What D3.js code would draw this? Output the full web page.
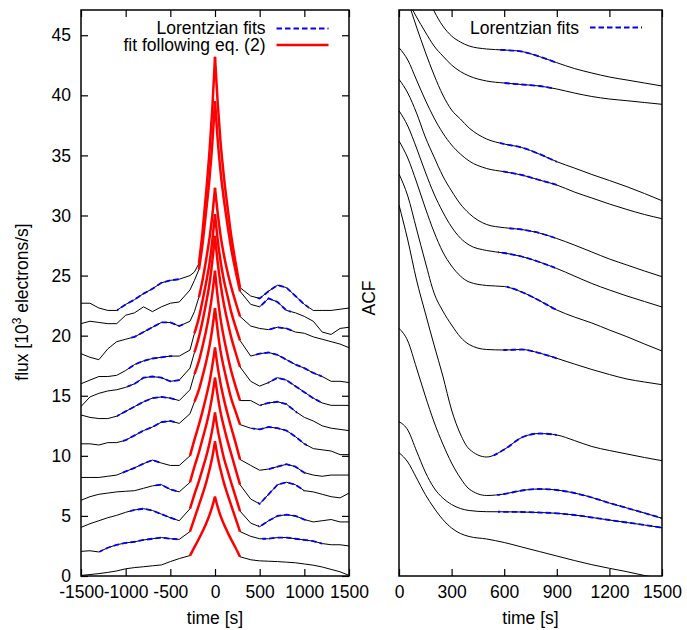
<!DOCTYPE html>
<html>
<head>
<meta charset="utf-8">
<script src="https://cdn.jsdelivr.net/npm/d3@7"></script>
<style>
  body { margin: 0; background: #fff; }
  text { font-family: "Liberation Sans", Arial, sans-serif; }
</style>
</head>
<body>
<svg id="chart" width="687" height="630"></svg>
<script>
// ---- left panel: flux light curves (12 curves, bottom to top) ----
const sideTimesL = [-1500, -1400, -1300, -1200, -1100, -1000, -900, -800, -700, -600, -500, -400];
const coreTimes  = [-280, -230, -180, -140, -100, -60, -30, 0, 30, 60, 100, 140, 180, 230, 280];
const sideTimesR = [400, 500, 600, 700, 800, 900, 1000, 1100, 1200, 1300, 1400, 1500];

const fluxSideL = [
  [0.05, 0.12, 0.2, 0.3, 0.42, 0.6, 0.7, 0.77, 0.85, 0.92, 1.2, 1.45],
  [2.05, 2.1, 2.0, 2.35, 2.6, 2.75, 2.85, 3.0, 3.1, 3.2, 3.1, 3.05],
  [4.05, 4.35, 4.6, 4.85, 5.05, 5.3, 5.5, 5.6, 5.45, 5.15, 4.85, 4.6],
  [6.3, 6.6, 6.8, 6.9, 7.0, 7.05, 7.1, 7.3, 7.5, 7.6, 7.2, 7.0],
  [8.2, 8.2, 8.2, 8.3, 8.4, 8.7, 9.0, 9.35, 9.65, 9.4, 9.2, 9.2],
  [11.0, 11.0, 10.9, 11.1, 11.1, 11.3, 11.7, 12.1, 12.4, 12.8, 12.9, 12.7],
  [13.4, 13.2, 13.1, 13.1, 13.3, 13.7, 14.1, 14.5, 14.8, 14.9, 14.8, 14.6],
  [14.1, 14.9, 15.2, 15.4, 15.5, 15.7, 16.0, 16.5, 16.6, 16.5, 16.2, 16.3],
  [16.0, 16.3, 16.6, 16.6, 16.7, 17.1, 17.6, 17.9, 18.1, 18.2, 18.3, 18.3],
  [18.5, 18.2, 18.0, 18.9, 19.5, 19.7, 19.9, 20.3, 20.7, 21.1, 21.1, 20.8],
  [21.0, 21.2, 21.1, 21.0, 21.0, 21.7, 21.9, 22.4, 22.0, 22.4, 22.7, 22.8],
  [22.7, 22.7, 22.3, 22.1, 22.1, 22.6, 23.0, 23.5, 23.9, 24.4, 24.6, 24.7]
];

const fluxCore = [
  [1.7, 2.4, 3.1, 3.7, 4.35, 5.1, 5.8, 6.6, 5.75, 5.05, 4.3, 3.65, 3.05, 2.35, 1.6],
  [3.7, 4.8, 5.9, 6.8, 7.75, 8.9, 9.9, 11.2, 9.9, 8.9, 7.75, 6.8, 5.9, 4.8, 3.7],
  [5.6, 6.8, 7.9, 8.9, 9.9, 11.1, 12.2, 13.6, 12.2, 11.1, 9.8, 8.8, 7.8, 6.6, 5.4],
  [7.8, 9.1, 10.3, 11.4, 12.5, 13.8, 15.0, 16.5, 15.0, 13.7, 12.4, 11.25, 10.2, 8.9, 7.6],
  [10.0, 11.35, 12.6, 13.7, 14.9, 16.2, 17.5, 19.0, 17.4, 16.1, 14.7, 13.5, 12.4, 11.1, 9.7],
  [13.5, 14.5, 15.5, 16.6, 17.8, 19.2, 20.6, 22.3, 20.4, 18.8, 17.3, 16.0, 14.8, 13.7, 12.6],
  [15.5, 16.8, 17.9, 19.1, 20.4, 22.0, 23.5, 25.4, 23.2, 21.5, 19.8, 18.4, 17.1, 15.8, 14.6],
  [17.3, 18.6, 19.9, 21.2, 22.7, 24.4, 26.2, 28.3, 26.1, 24.4, 22.6, 21.2, 19.9, 18.6, 17.4],
  [18.8, 20.2, 21.5, 22.9, 24.4, 26.1, 27.9, 30.1, 28.0, 26.3, 24.6, 23.3, 22.0, 20.75, 19.6],
  [21.2, 22.0, 23.2, 24.6, 26.3, 28.2, 30.0, 32.3, 30.2, 28.45, 26.7, 25.3, 24.1, 22.8, 21.6],
  [23.8, 24.6, 25.5, 27.6, 30.3, 33.2, 36.0, 39.5, 36.3, 33.8, 31.3, 29.2, 27.3, 25.4, 23.7],
  [25.0, 25.3, 26.0, 28.6, 31.85, 35.5, 38.9, 43.2, 39.4, 36.3, 33.2, 30.7, 28.4, 26.1, 24.0]
];

const fluxSideR = [
  [1.35, 1.26, 1.23, 1.2, 1.15, 1.1, 1.0, 0.9, 0.75, 0.55, 0.35, 0.05],
  [3.3, 3.1, 3.1, 3.2, 3.2, 3.1, 3.0, 2.9, 2.7, 2.6, 2.6, 2.5],
  [4.4, 4.1, 4.6, 5.0, 5.1, 5.0, 4.7, 4.5, 4.6, 4.7, 4.5, 4.5],
  [6.4, 6.0, 6.8, 7.6, 7.8, 7.6, 7.1, 7.0, 6.8, 6.6, 6.5, 6.9],
  [9.2, 8.8, 8.9, 9.1, 9.3, 9.1, 8.6, 8.4, 8.3, 8.4, 8.4, 8.4],
  [12.3, 12.2, 12.4, 12.3, 12.1, 11.6, 11.0, 10.6, 10.5, 10.4, 10.1, 10.1],
  [14.6, 14.2, 14.4, 14.5, 14.3, 13.7, 13.2, 12.9, 12.5, 12.3, 12.2, 12.1],
  [16.2, 15.8, 16.1, 16.5, 16.3, 15.8, 15.3, 14.8, 14.4, 14.2, 14.2, 14.2],
  [18.3, 18.5, 18.6, 18.4, 18.0, 17.6, 17.3, 16.9, 16.6, 16.2, 16.2, 16.1],
  [20.8, 20.6, 20.5, 20.7, 20.6, 20.3, 20.2, 19.9, 19.7, 19.5, 19.3, 19.0],
  [22.6, 22.4, 23.1, 22.8, 22.1, 21.9, 21.6, 21.2, 20.3, 20.1, 20.6, 20.7],
  [23.3, 23.1, 23.7, 24.2, 24.0, 23.3, 22.6, 22.1, 22.1, 22.1, 22.2, 22.3]
];

// time span of the eq. (2) fit (red) and of the Lorentzian fits (blue)
const redStart = [-280, -280, -280, -280, -280, -230, -230, -230, -230, -180, -180, -180];
const redEnd = 280;
const lorentzLeft = [null, [-1290, -420], [-950, -420], [-680, -430], [-1050, -620], [-1030, -430],
  [-1100, -430], [-980, -380], [-970, -480], [-940, -350], null, [-1100, -390]];
const lorentzRight = [null, [530, 1200], [480, 1030], [480, 1000], [600, 1020], [420, 1030],
  [510, 920], [590, 1180], [430, 1200], [590, 870], [490, 850], [470, 1050]];

// ---- right panel: ACF curves (offset, arbitrary units), top to bottom ----
const acfTimes = [0, 50, 100, 150, 200, 250, 300, 350, 400, 500, 600, 700, 800, 900, 1000, 1100, 1200, 1300, 1400, 1500];
const acfCurves = [
  [63.6, 62.0, 60.3, 58.5, 56.5, 55.0, 54.0, 53.4, 53.0, 52.7, 52.6, 52.45, 51.95, 51.33, 50.75, 50.3, 49.9, 49.6, 49.3, 49.0],
  [59.1, 57.5, 55.9, 54.4, 53.0, 52.0, 51.1, 50.45, 50.0, 49.5, 49.3, 49.15, 49.0, 48.7, 48.3, 47.95, 47.7, 47.53, 47.35, 47.17],
  [60.1, 57.54, 54.9, 52.4, 50.1, 48.1, 46.6, 45.7, 44.8, 43.7, 43.2, 42.85, 42.2, 41.43, 40.8, 40.15, 39.55, 38.93, 38.25, 37.53],
  [52.83, 51.6, 49.6, 47.6, 45.8, 44.3, 43.1, 42.2, 41.5, 40.75, 40.43, 40.1, 39.6, 39.1, 38.4, 37.8, 37.2, 36.65, 36.15, 35.73],
  [49.67, 48.3, 46.3, 43.9, 41.9, 40.0, 38.5, 37.2, 36.25, 35.15, 34.83, 34.65, 34.3, 33.75, 33.1, 32.4, 31.7, 31.1, 30.5, 29.93],
  [46.53, 45.0, 42.8, 40.4, 38.2, 36.4, 34.9, 33.8, 33.1, 32.55, 32.3, 31.95, 31.4, 30.75, 30.0, 29.25, 28.6, 28.0, 27.45, 26.9],
  [43.5, 41.8, 39.4, 36.8, 34.4, 32.4, 31.0, 30.0, 29.4, 29.05, 28.95, 28.4, 27.55, 26.6, 25.9, 25.3, 24.6, 23.93, 23.2, 22.5],
  [40.2, 38.0, 34.7, 31.4, 28.3, 26.5, 25.1, 23.9, 23.15, 22.65, 22.6, 22.65, 22.3, 21.77, 21.2, 20.65, 20.15, 19.7, 19.4, 19.13],
  [37.1, 33.6, 29.6, 26.3, 23.1, 20.0, 16.6, 14.2, 12.7, 11.9, 12.65, 13.85, 14.25, 14.1, 13.55, 12.95, 12.55, 12.2, 11.85, 11.53],
  [24.77, 23.5, 20.8, 18.0, 15.4, 13.2, 11.3, 9.8, 8.7, 8.05, 8.2, 8.55, 8.7, 8.6, 8.3, 7.85, 7.3, 6.8, 6.3, 5.77],
  [15.43, 14.6, 12.5, 10.4, 8.8, 7.8, 7.15, 6.75, 6.55, 6.43, 6.42, 6.4, 6.35, 6.27, 6.1, 5.85, 5.6, 5.35, 5.1, 4.83],
  [12.33, 11.4, 9.8, 8.15, 6.8, 5.65, 4.8, 4.25, 3.95, 3.7, 3.35, 2.9, 2.45, 2.0, 1.55, 1.13, 0.77, 0.43, 0.05, -0.3]
];
const acfLorentz = [[560, 900], [600, 880], [575, 900], [595, 900], [630, 890], [565, 890],
  [615, 900], [595, 900], [540, 900], [560, 1500], [565, 1500], null];

// ---- ticks ----
const fluxTicks = [0, 5, 10, 15, 20, 25, 30, 35, 40, 45];
const timeTicksL = [-1500, -1000, -500, 0, 500, 1000, 1500];
const timeTicksR = [0, 300, 600, 900, 1200, 1500];

const W = 687, H = 630;
const FS = 17.5;
const TICK = 7;
const BLUE = "#0000ff", RED = "#ff0000";

const svg = d3.select("#chart");
svg.append("rect").attr("width", W).attr("height", H).attr("fill", "#fff");
const defs = svg.append("defs");

let clipCount = 0;
function clip(x0, x1, y0, y1) {
  const id = "clip" + (clipCount++);
  defs.append("clipPath").attr("id", id).append("rect")
    .attr("x", x0).attr("y", y0).attr("width", x1 - x0).attr("height", y1 - y0);
  return `url(#${id})`;
}

const plotTop = 10, plotBottom = 576;
const xL = d3.scaleLinear().domain([-1500, 1500]).range([81, 349]);
const yL = d3.scaleLinear().domain([0, 47.1]).range([plotBottom, plotTop]);
const xR = d3.scaleLinear().domain([0, 1500]).range([399, 662]);
const yR = d3.scaleLinear().domain([0, 56.6]).range([plotBottom, plotTop]);

// ---------- left panel ----------
const fluxSeries = fluxCore.map((core, i) => {
  const t = sideTimesL.concat(coreTimes, sideTimesR);
  const v = fluxSideL[i].concat(core, fluxSideR[i]);
  return t.map((tt, k) => ({ t: tt, v: v[k] }));
});

const lineL = d3.line().x(d => xL(d.t)).y(d => yL(d.v));
// the fit is smooth on each flank, with a cusp at t = 0
const lineFit = d3.line().x(d => xL(d.t)).y(d => yL(d.v)).curve(d3.curveMonotoneX);
const gL = svg.append("g").attr("clip-path", clip(81, 349, plotTop, plotBottom));

gL.selectAll("path.data")
  .data(fluxSeries)
  .join("path")
  .attr("class", "data")
  .attr("d", lineL)
  .attr("fill", "none")
  .attr("stroke", "#000")
  .attr("stroke-width", 1);

fluxSeries.forEach((s, i) => {
  [lorentzLeft[i], lorentzRight[i]].forEach(r => {
    if (!r) return;
    gL.append("path").datum(s)
      .attr("d", lineL)
      .attr("clip-path", clip(xL(r[0]), xL(r[1]), 0, H))
      .attr("fill", "none")
      .attr("stroke", BLUE)
      .attr("stroke-width", 1.8)
      .attr("stroke-dasharray", "5.5,3");
  });
});

fluxSeries.forEach((s, i) => {
  const flanks = [s.filter(d => d.t <= 0 && d.t >= redStart[i]), s.filter(d => d.t >= 0 && d.t <= redEnd)];
  flanks.forEach(f => {
    gL.append("path").datum(f)
      .attr("d", lineFit)
      .attr("fill", "none")
      .attr("stroke", RED)
      .attr("stroke-width", 2.5)
      .attr("stroke-linejoin", "round");
  });
});

// ---------- right panel ----------
const acfSeries = acfCurves.map(c => c.map((v, k) => ({ t: acfTimes[k], v })));
const lineR = d3.line().x(d => xR(d.t)).y(d => yR(d.v)).curve(d3.curveMonotoneX);
const gR = svg.append("g").attr("clip-path", clip(399, 662, plotTop, plotBottom));

gR.selectAll("path.acf")
  .data(acfSeries)
  .join("path")
  .attr("class", "acf")
  .attr("d", lineR)
  .attr("fill", "none")
  .attr("stroke", "#000")
  .attr("stroke-width", 1);

acfSeries.forEach((s, i) => {
  const r = acfLorentz[i];
  if (!r) return;
  gR.append("path").datum(s)
    .attr("d", lineR)
    .attr("clip-path", clip(xR(r[0]), xR(r[1]), 0, H))
    .attr("fill", "none")
    .attr("stroke", BLUE)
    .attr("stroke-width", 1.8)
    .attr("stroke-dasharray", "5.5,3");
});

// ---------- axes & frames ----------
function styleAxis(g) {
  g.select(".domain").remove();
  g.selectAll(".tick line").attr("stroke", "#000").attr("stroke-width", 1.2);
  g.selectAll("text").attr("font-size", FS).attr("fill", "#000")
    .attr("font-family", "'Liberation Sans', Arial, sans-serif");
}
const fmt = d => String(d);

svg.append("g").attr("transform", `translate(0,${plotBottom})`)
  .call(d3.axisBottom(xL).tickValues(timeTicksL).tickFormat(fmt).tickSizeInner(-TICK).tickSizeOuter(0).tickPadding(10))
  .call(styleAxis);
svg.append("g").attr("transform", `translate(0,${plotTop})`)
  .call(d3.axisTop(xL).tickValues(timeTicksL).tickFormat("").tickSizeInner(-TICK).tickSizeOuter(0))
  .call(styleAxis);
svg.append("g").attr("transform", `translate(${xL.range()[0]},0)`)
  .call(d3.axisLeft(yL).tickValues(fluxTicks).tickFormat(fmt).tickSizeInner(-TICK).tickSizeOuter(0).tickPadding(10))
  .call(styleAxis);
svg.append("g").attr("transform", `translate(${xL.range()[1]},0)`)
  .call(d3.axisRight(yL).tickValues(fluxTicks).tickFormat("").tickSizeInner(-TICK).tickSizeOuter(0))
  .call(styleAxis);

svg.append("g").attr("transform", `translate(0,${plotBottom})`)
  .call(d3.axisBottom(xR).tickValues(timeTicksR).tickFormat(fmt).tickSizeInner(-TICK).tickSizeOuter(0).tickPadding(10))
  .call(styleAxis);
svg.append("g").attr("transform", `translate(0,${plotTop})`)
  .call(d3.axisTop(xR).tickValues(timeTicksR).tickFormat("").tickSizeInner(-TICK).tickSizeOuter(0))
  .call(styleAxis);

[xL, xR].forEach(x => {
  svg.append("rect")
    .attr("x", x.range()[0]).attr("y", plotTop)
    .attr("width", x.range()[1] - x.range()[0]).attr("height", plotBottom - plotTop)
    .attr("fill", "none").attr("stroke", "#000").attr("stroke-width", 1.5);
});

// axis titles
svg.append("text").attr("x", 215).attr("y", 624).attr("text-anchor", "middle")
  .attr("font-size", FS).text("time [s]");
svg.append("text").attr("x", 530.5).attr("y", 624).attr("text-anchor", "middle")
  .attr("font-size", FS).text("time [s]");

const yt = svg.append("text").attr("transform", "translate(28,302) rotate(-90)")
  .attr("text-anchor", "middle").attr("font-size", FS);
yt.append("tspan").text("flux [10");
yt.append("tspan").attr("dy", -7).attr("font-size", 12).text("3");
yt.append("tspan").attr("dy", 7).text(" electrons/s]");

svg.append("text").attr("transform", "translate(375,298) rotate(-90)")
  .attr("text-anchor", "middle").attr("font-size", FS).text("ACF");

// legends
function legendRow(xEnd, yBase, yLine, label, color, dash) {
  svg.append("text").attr("x", xEnd).attr("y", yBase).attr("text-anchor", "end")
    .attr("font-size", FS).text(label);
  svg.append("line")
    .attr("x1", xEnd + 11).attr("x2", xEnd + 63)
    .attr("y1", yLine).attr("y2", yLine)
    .attr("stroke", color).attr("stroke-width", dash ? 1.8 : 2.5)
    .attr("stroke-dasharray", dash ? "5.5,3" : null);
}
legendRow(265.5, 34.3, 28.5, "Lorentzian fits", BLUE, true);
legendRow(265.5, 50.5, 45, "fit following eq. (2)", RED, false);
legendRow(579, 34.3, 27.5, "Lorentzian fits", BLUE, true);
</script>
</body>
</html>
